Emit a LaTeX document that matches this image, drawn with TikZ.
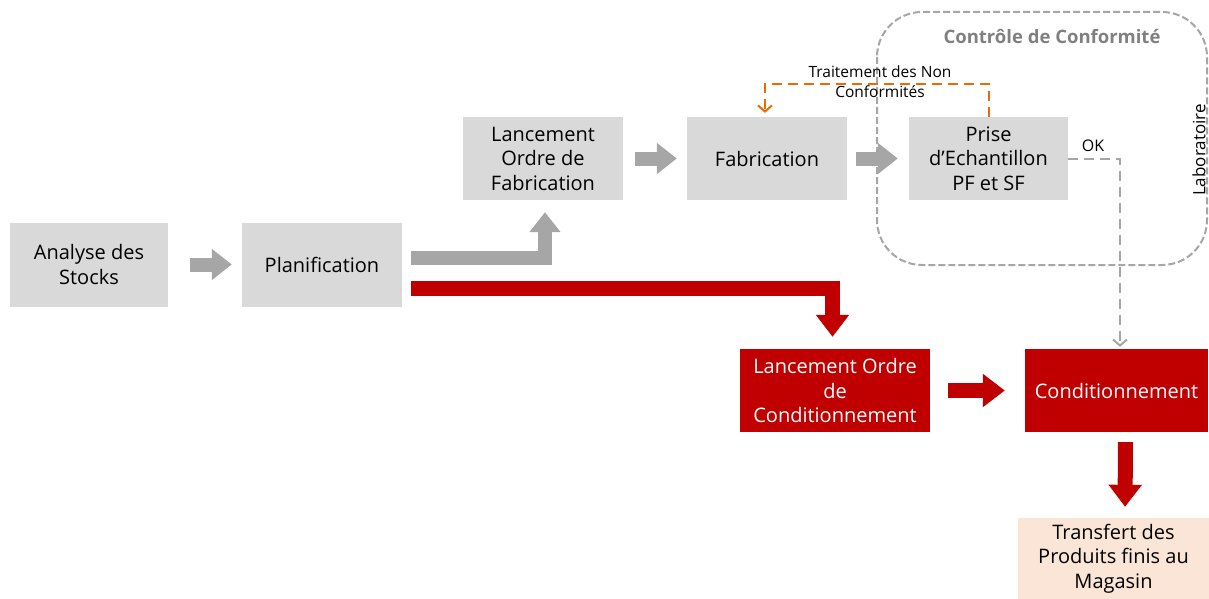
\documentclass[tikz,border=0pt]{standalone}
\usepackage{fontspec}
\setmainfont{Open Sans}
\usetikzlibrary{arrows.meta}
\definecolor{boxgray}{HTML}{D9D9D9}
\definecolor{arrgray}{HTML}{A6A6A6}
\definecolor{darkred}{HTML}{C00000}
\definecolor{peach}{HTML}{FBE5D6}
\definecolor{ncorange}{HTML}{E46C0A}
\definecolor{labgray}{HTML}{808080}
\tikzset{
  stepbox/.style={fill=boxgray, minimum width=160pt, minimum height=84pt,
    align=center, font=\fontsize{20}{24.5}\selectfont, inner sep=2pt},
  redbox/.style={stepbox, fill=darkred, text=white},
  grayarrow/.style={draw=arrgray, line width=14pt,
    -{Triangle[width=30pt,length=20pt]}},
  redarrow/.style={draw=darkred, line width=15pt,
    -{Triangle[width=32pt,length=22pt]}},
  dashlink/.style={dash pattern=on 10pt off 6pt, line width=2pt,
    -{Straight Barb[length=6pt,width=14pt]}}
}
\begin{document}
\begin{tikzpicture}[x=1pt,y=-1pt]
  \useasboundingbox (0,0) rectangle (1209,599);

  % Laboratory frame
  \draw[arrgray, line width=2pt, dash pattern=on 7pt off 3pt, rounded corners=45pt]
    (877,12) rectangle (1207,265);
  \node[labgray, font=\bfseries\fontsize{18.5}{20}\selectfont] (ctrl) at (1052,37)
    {Contrôle de Conformité};
  \node[rotate=90, font=\fontsize{17}{19}\selectfont] (labo) at (1199,150) {Laboratoire};

  % Process steps
  \node[stepbox, minimum width=158pt] (stocks) at (89,264.5) {Analyse des\\Stocks};
  \node[stepbox] (plan) at (322,264.5) {Planification};
  \node[stepbox, minimum height=83pt] (lof) at (543,158.5) {Lancement\\Ordre de\\Fabrication};
  \node[stepbox, minimum height=83pt] (fab) at (767,158.5) {Fabrication};
  \node[stepbox, minimum width=159pt, minimum height=83pt] (prise) at (988.5,158.5)
    {Prise\\d’Echantillon\\PF et SF};
  \node[redbox, minimum width=190pt, minimum height=83pt] (loc) at (835,390.5)
    {Lancement Ordre\\de\\Conditionnement};
  \node[redbox, minimum width=183pt, minimum height=83pt] (cond) at (1116.5,390.5)
    {Conditionnement};
  \node[stepbox, fill=peach, minimum width=191pt, minimum height=81pt] (transf)
    at (1113.5,558.5) {Transfert des\\Produits finis au\\Magasin};

  % Block arrows
  \draw[grayarrow, shorten <=22pt, shorten >=10pt] (stocks) -- (plan);
  \draw[grayarrow, shorten <=12pt, shorten >=10pt] (lof) -- (fab);
  \draw[grayarrow, shorten <=9pt, shorten >=11pt] (fab) -- (prise);
  \draw[grayarrow, shorten <=9pt, shorten >=12pt]
    ([yshift=7pt]plan.east) -| ([xshift=2pt]lof.south);
  \draw[redarrow, shorten <=9pt, shorten >=12pt]
    ([yshift=-23.5pt]plan.east) -| ([xshift=-2.5pt]loc.north);
  \draw[redarrow, shorten <=18pt, shorten >=20pt] (loc) -- (cond);
  \draw[redarrow, shorten <=10pt, shorten >=11pt]
    ([xshift=9pt]cond.south) -- ([xshift=11.5pt]transf.north);

  % Dashed links
  \draw[dashlink, ncorange, shorten >=4pt]
    (prise.north) -- ++(0,-33) -| ([xshift=-2pt]fab.north);
  \node[align=center, font=\fontsize{15.5}{20}\selectfont] (nclabel) at (880,82)
    {Traitement des Non\\Conformités};
  \draw[dashlink, arrgray, shorten >=2pt]
    (prise.east) -| ([xshift=3.5pt]cond.north);
  \node[font=\fontsize{16}{19}\selectfont] (ok) at (1093,146) {OK};
\end{tikzpicture}
\end{document}
